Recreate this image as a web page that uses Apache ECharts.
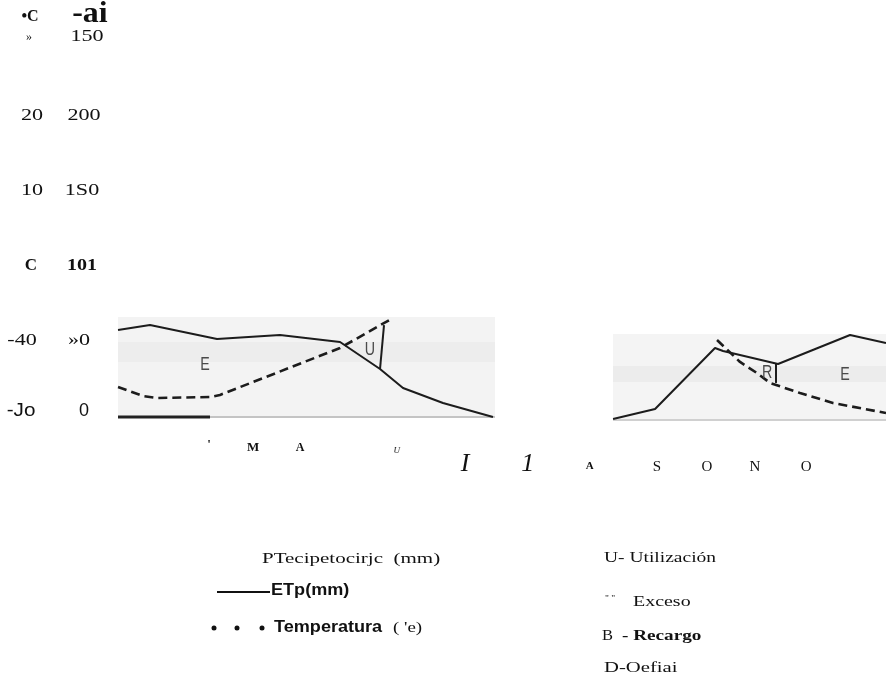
<!DOCTYPE html>
<html><head><meta charset="utf-8">
<script src="https://cdn.jsdelivr.net/npm/echarts@6/dist/echarts.min.js"></script>
<style>html,body{margin:0;padding:0;background:#fff}#c{width:886px;height:676px}</style>
</head><body><div id="c"></div>
<script>
// x: months, y: mm
const solidLeft = [[-0.135,58],[0.370,61.3],[1.429,52],[2.424,54.7],[3.373,50],[4.005,32],[4.368,19.3],[5.0,9.3],[5.790,0]];
const dashedLeft = [[-0.135,20],[0.259,14],[0.481,12.7],[1.319,13.3],[1.476,14.7],[3.373,46],[4.210,66]];
const solidRight = [[7.687,-1.3],[8.351,5.3],[9.298,46],[9.425,44],[10.294,35.3],[11.432,54.7],[12.0,49.3]];
const dashedRight = [[9.330,51.3],[9.693,36.7],[9.962,29.3],[10.167,22.7],[10.641,16],[11.162,9.3],[12.0,2.7]];
const utilBoundary = [[4.068,61.3],[4.005,32]];
const rechargeBoundary = [[10.262,36],[10.262,22.7]];

const monthLabels = ["'", "M", "A", "U", "I", "1", "A", "S", "O", "N", "O"];
const monthPos = [1.303, 2.0, 2.74, 4.27, 5.35, 6.34, 7.32, 8.38, 9.17, 9.93, 10.74];
const monthRow = [-18.7, -20.7, -20.7, -22.7, -31.3, -31.3, -32.7, -33.3, -33.3, -33.3, -33.3];

const tempHeader = '•C';
const mmHeader = '-ai';
const tempTickLabels = ['»', '20', '10', 'C', '-40', '-Jo'];
const mmTickLabels = ['150', '200', '1S0', '101', '»0', '0'];
const tickValues = [253.5, 201, 151, 101, 51, 4];
const tempColPos = [-1.542, -1.494, -1.494, -1.510, -1.652, -1.668];
const mmColPos = [-0.625, -0.673, -0.704, -0.704, -0.752, -0.672];

const zoneLabels = ['E', 'U', 'R', 'E'];
const zonePos = [[1.239, 34.7], [3.846, 44.7], [10.12, 29.3], [11.352, 28]];

// styles
const SERIF = '"Liberation Serif", "DejaVu Serif", serif';
const SANS = '"Liberation Sans", Arial, sans-serif';
const monthStyles = [
  ['bold 13px', 1], ['bold 13px', 1], ['bold 12px', 1], ['italic 9px', 1],
  ['italic 26px', 1], ['italic 26px', 1], ['bold 11px', 1],
  ['15px', 1], ['15px', 1], ['15px', 1], ['15px', 1]
];
const tempStyles = [
  ['12px ' + SERIF, 1], ['17px ' + SERIF, 1.3], ['17px ' + SERIF, 1.3],
  ['bold 17px ' + SERIF, 1], ['17px ' + SERIF, 1.3], ['18px ' + SANS, 1.15]
];
const mmStyles = [
  ['17px ' + SERIF, 1.3], ['17px ' + SERIF, 1.3], ['17px ' + SERIF, 1.3],
  ['bold 17px ' + SERIF, 1.18], ['17px ' + SERIF, 1.3], ['18px ' + SANS, 1]
];

const chart = echarts.init(document.getElementById('c'), null, {renderer: 'canvas'});

const lineStyleSolid = {color: '#1c1c1c', width: 2};
const lineStyleDash = {color: '#1c1c1c', width: 2.6, type: [9, 5]};
function lineSeries(name, data, style) {
  return {type: 'line', name: name, data: data, showSymbol: false, symbol: 'none', lineStyle: style, silent: true, clip: false, z: 3};
}

const baseGraphic = [
  {type: 'rect', shape: {x: 118, y: 317, width: 377, height: 101}, style: {fill: '#f3f3f3'}, z: 0},
  {type: 'rect', shape: {x: 118, y: 342, width: 377, height: 20}, style: {fill: '#ededed'}, z: 0},
  {type: 'rect', shape: {x: 613, y: 334, width: 273, height: 86}, style: {fill: '#f4f4f4'}, z: 0},
  {type: 'rect', shape: {x: 613, y: 366, width: 273, height: 16}, style: {fill: '#ececec'}, z: 0},
  {type: 'line', shape: {x1: 118, y1: 417, x2: 210, y2: 417}, style: {stroke: '#222', lineWidth: 3}, z: 1},
  {type: 'line', shape: {x1: 210, y1: 417, x2: 495, y2: 417}, style: {stroke: '#c4c4c4', lineWidth: 2}, z: 1},
  {type: 'line', shape: {x1: 613, y1: 420, x2: 886, y2: 420}, style: {stroke: '#d0d0d0', lineWidth: 2}, z: 1}
];

function txt(x, y, text, font, align, sx, color) {
  return {type: 'text', x: x, y: y, scaleX: sx || 1, z: 5, silent: true,
    style: {x: 0, y: 0, text: text, font: font, fill: color || '#111', align: align || 'left', verticalAlign: 'middle'}};
}

const legendGraphic = [
  txt(262, 559, 'PTecipetocirjc  (mm)', '15px ' + SERIF, 'left', 1.4),
  {type: 'line', shape: {x1: 217, y1: 592, x2: 270, y2: 592}, style: {stroke: '#111', lineWidth: 2}, z: 5},
  txt(271, 591, 'ETp(mm)', 'bold 16px ' + SANS, 'left', 1.13),
  {type: 'circle', shape: {cx: 214, cy: 628, r: 2.5}, style: {fill: '#111'}, z: 5},
  {type: 'circle', shape: {cx: 237, cy: 628, r: 2.5}, style: {fill: '#111'}, z: 5},
  {type: 'circle', shape: {cx: 262, cy: 628, r: 2.5}, style: {fill: '#111'}, z: 5},
  txt(274, 628, 'Temperatura', 'bold 16px ' + SANS, 'left', 1.13),
  txt(393, 628, '( \'e)', '14px ' + SERIF, 'left', 1.35),
  txt(604, 558, 'U- Utilización', '15px ' + SERIF, 'left', 1.3),
  txt(605, 599, '" "', '8px ' + SERIF, 'left', 1.2),
  txt(633, 602, 'Exceso', '15px ' + SERIF, 'left', 1.33),
  txt(602, 636, 'B', '15px ' + SERIF, 'left', 1.1),
  txt(622, 636, '- Recargo', 'bold 15px ' + SERIF, 'left', 1.28),
  txt(604, 668, 'D-Oefiai', '15px ' + SERIF, 'left', 1.38)
];

chart.setOption({
  animation: false,
  backgroundColor: '#ffffff',
  grid: {left: 0, right: 0, top: 12, bottom: 4},
  xAxis: {type: 'value', min: -2, max: 12, show: false},
  yAxis: {type: 'value', min: -170, max: 270, show: false},
  graphic: baseGraphic.concat(legendGraphic),
  series: [
    lineSeries('ETp', solidLeft, lineStyleSolid),
    lineSeries('ETp2', solidRight, lineStyleSolid),
    lineSeries('Precipitación', dashedLeft, lineStyleDash),
    lineSeries('Precipitación2', dashedRight, lineStyleDash),
    lineSeries('Utilización', utilBoundary, {color: '#1c1c1c', width: 2}),
    lineSeries('Recarga', rechargeBoundary, {color: '#1c1c1c', width: 2})
  ]
});

// axis-like labels placed through the chart's own scales
const px = (x, y) => chart.convertToPixel({gridIndex: 0}, [x, y]);
const labelGraphic = [];
monthLabels.forEach((t, i) => {
  const p = px(monthPos[i], monthRow[i]);
  labelGraphic.push(txt(p[0], p[1], t, monthStyles[i][0] + ' ' + SERIF, 'center', monthStyles[i][1]));
});
tempTickLabels.forEach((t, i) => {
  const p = px(tempColPos[i], tickValues[i]);
  labelGraphic.push(txt(p[0], p[1], t, tempStyles[i][0], 'center', tempStyles[i][1]));
});
mmTickLabels.forEach((t, i) => {
  const p = px(mmColPos[i], tickValues[i]);
  labelGraphic.push(txt(p[0], p[1], t, mmStyles[i][0], 'center', mmStyles[i][1]));
});
let p = px(-1.526, 266.7);
labelGraphic.push(txt(p[0], p[1], tempHeader, 'bold 16px ' + SERIF, 'center', 1));
p = px(-0.58, 268.5);
labelGraphic.push(txt(p[0], p[1], mmHeader, 'bold 29px ' + SERIF, 'center', 1.1));
zoneLabels.forEach((t, i) => {
  const q = px(zonePos[i][0], zonePos[i][1]);
  labelGraphic.push(txt(q[0], q[1], t, '19px ' + SANS, 'center', 0.75, '#4a4a4a'));
});

chart.setOption({graphic: baseGraphic.concat(legendGraphic, labelGraphic)});
</script></body></html>
